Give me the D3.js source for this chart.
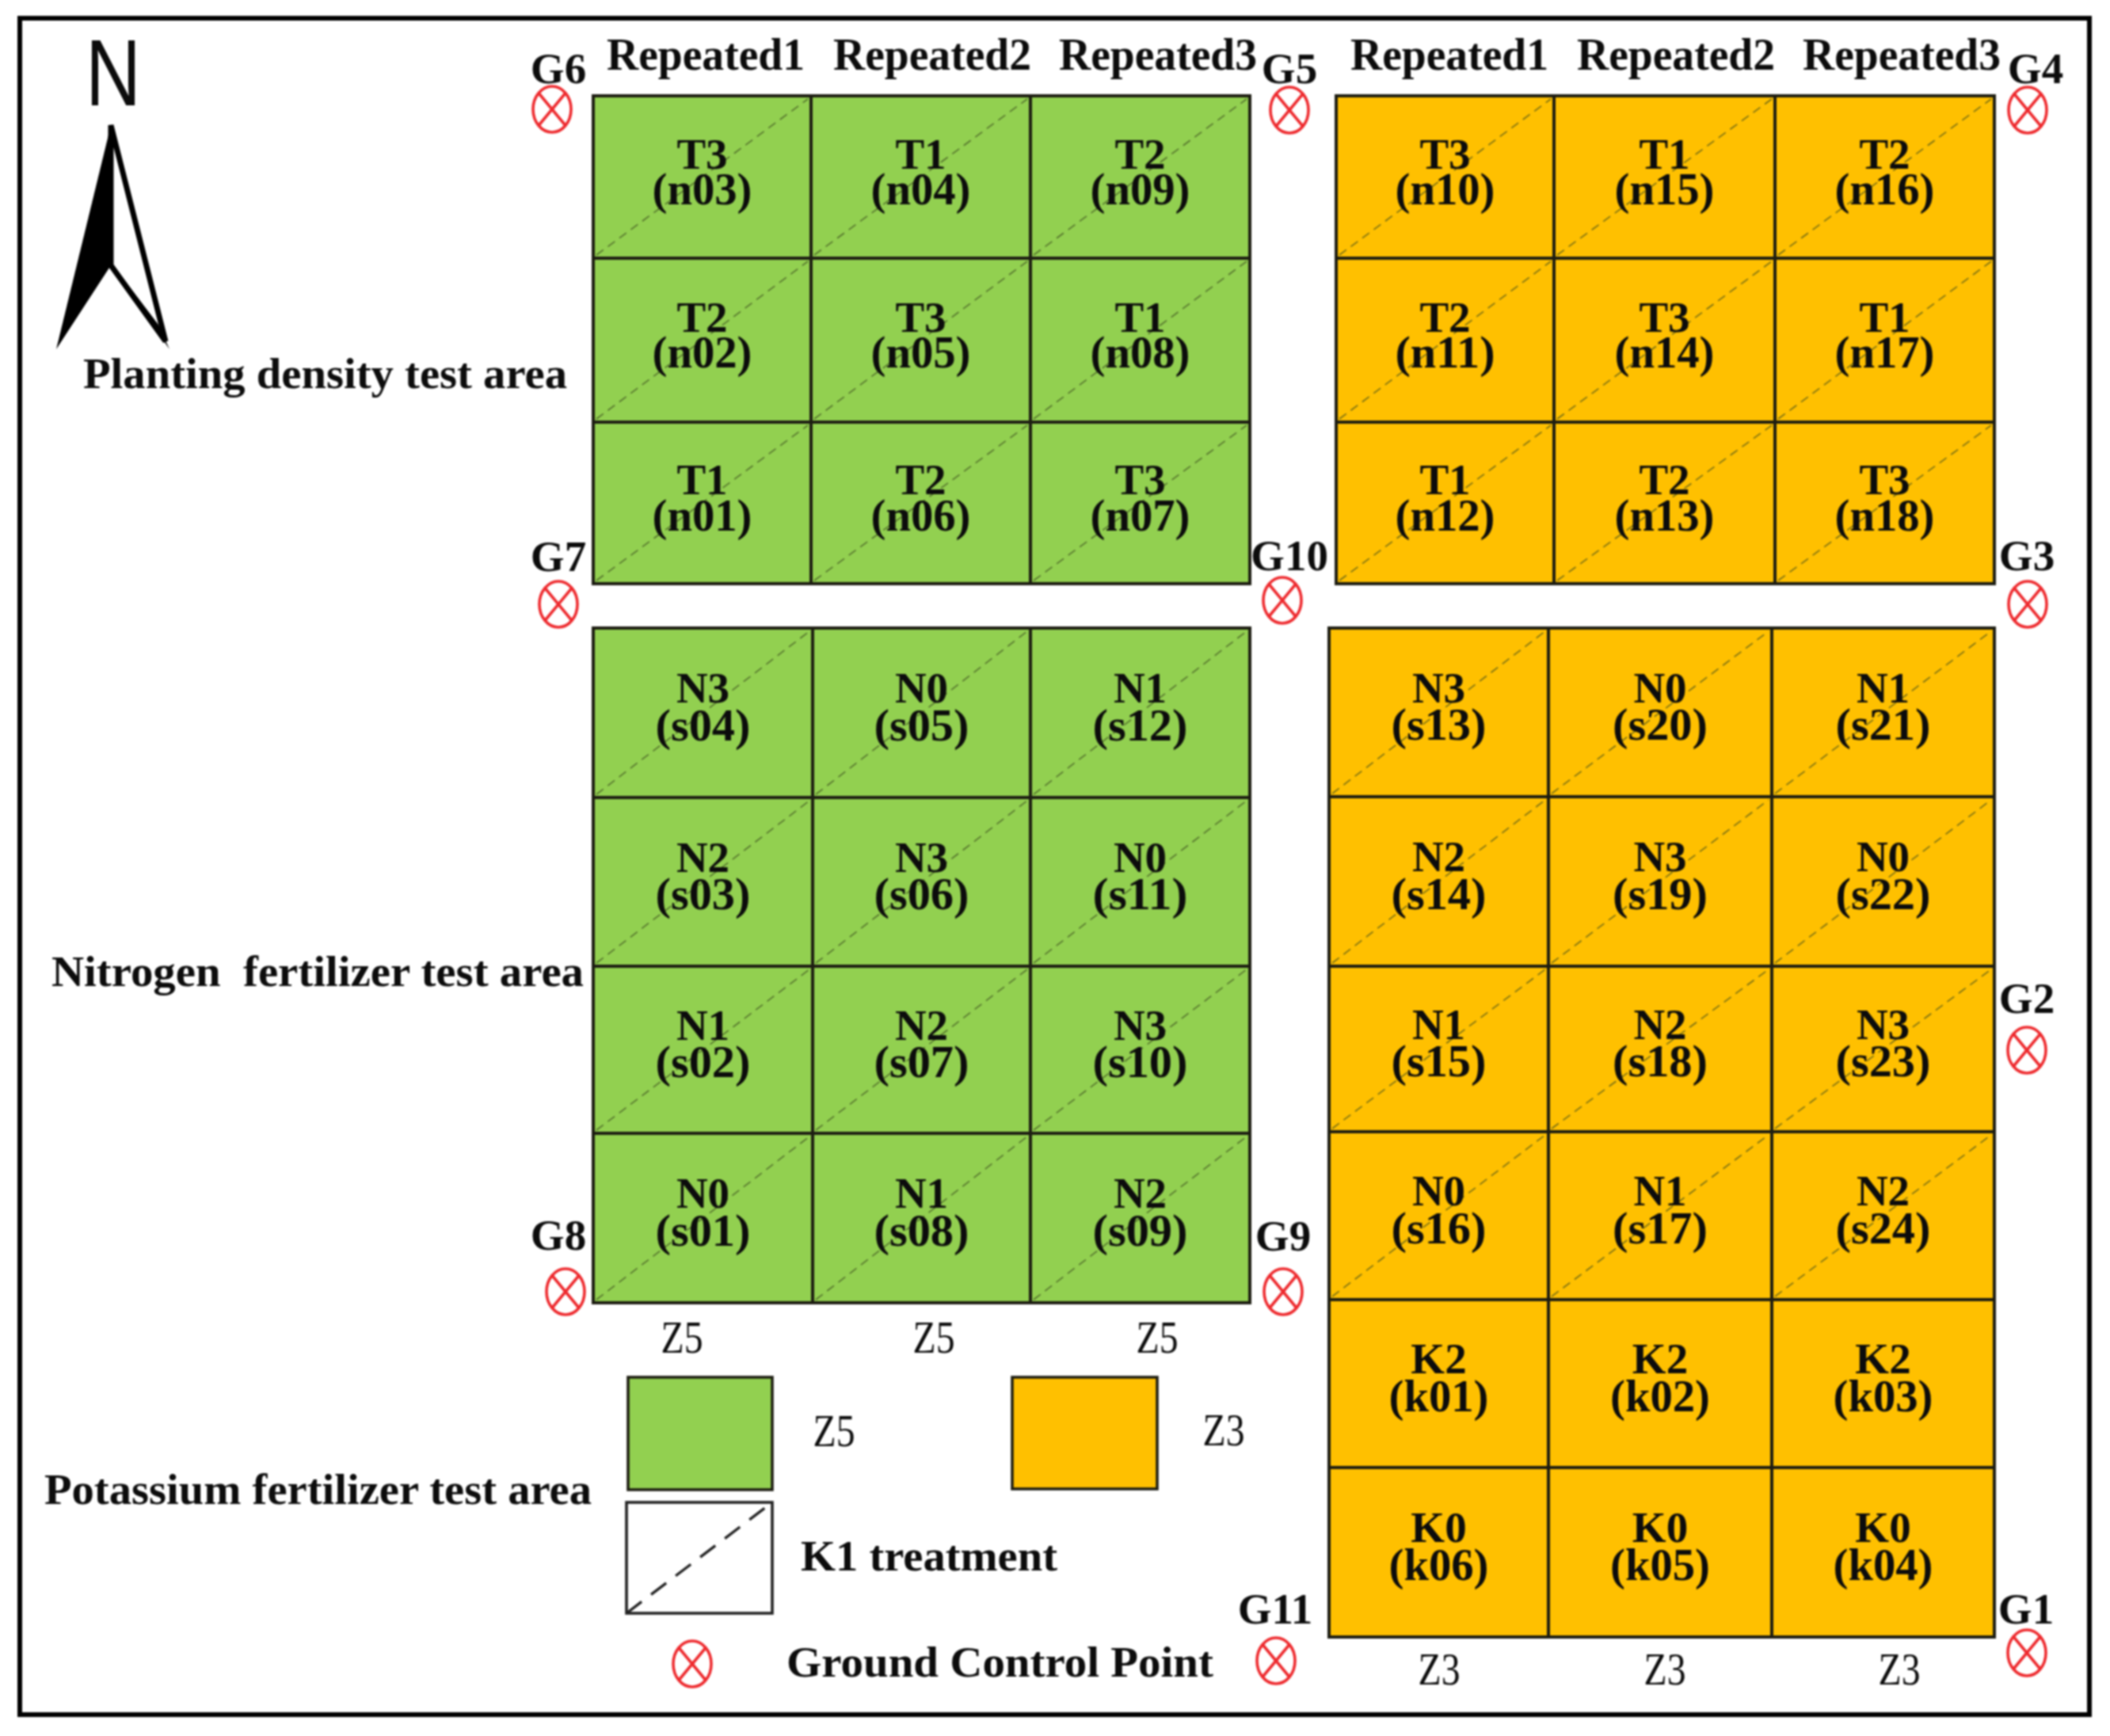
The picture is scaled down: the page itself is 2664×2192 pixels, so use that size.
<!DOCTYPE html>
<html>
<head>
<meta charset="utf-8">
<script src="https://cdn.jsdelivr.net/npm/d3@7/dist/d3.min.js"></script>
<style>
html,body{margin:0;padding:0;background:#fff;}
svg{display:block;filter:blur(0.9px);}
text{font-family:"Liberation Serif",serif;fill:#0c0c0c;white-space:pre;}
</style>
</head>
<body>
<svg id="chart" width="2664" height="2192" viewBox="0 0 2664 2192"></svg>
<script>
// ---- data ----
const repeats = ["Repeated1","Repeated2","Repeated3"];
const densityLeftTreat  = [["T3","T1","T2"],["T2","T3","T1"],["T1","T2","T3"]];
const densityLeftPlot   = [["n03","n04","n09"],["n02","n05","n08"],["n01","n06","n07"]];
const densityRightTreat = [["T3","T1","T2"],["T2","T3","T1"],["T1","T2","T3"]];
const densityRightPlot  = [["n10","n15","n16"],["n11","n14","n17"],["n12","n13","n18"]];
const nitroLeftTreat  = [["N3","N0","N1"],["N2","N3","N0"],["N1","N2","N3"],["N0","N1","N2"]];
const nitroLeftPlot   = [["s04","s05","s12"],["s03","s06","s11"],["s02","s07","s10"],["s01","s08","s09"]];
const mixedRightTreat = [["N3","N0","N1"],["N2","N3","N0"],["N1","N2","N3"],["N0","N1","N2"],["K2","K2","K2"],["K0","K0","K0"]];
const mixedRightPlot  = [["s13","s20","s21"],["s14","s19","s22"],["s15","s18","s23"],["s16","s17","s24"],["k01","k02","k03"],["k06","k05","k04"]];
const areaNames = ["Planting density test area","Nitrogen  fertilizer test area","Potassium fertilizer test area"];
const legendNames = ["Z5","Z3","K1 treatment","Ground Control Point"];
const gcpNames = ["G1","G2","G3","G4","G5","G6","G7","G8","G9","G10","G11"];

// ---- style / layout ----
const GREEN="#92D050", ORANGE="#FFC000", RED="#EE2A2E", LINE="#1d1d12";
const svg=d3.select("#chart");
const idx=n=>d3.range(n+1);

function text(s,x,y,size,opt={}){
  const t=svg.append("text").attr("x",x).attr("y",y).attr("font-size",size)
    .attr("font-weight",opt.weight||"bold").attr("text-anchor",opt.anchor||"middle").text(s);
  if(opt.width) t.attr("textLength",opt.width).attr("lengthAdjust","spacingAndGlyphs");
  if(opt.family) t.style("font-family",opt.family);
  return t;
}

// frame
svg.append("rect").attr("x",25).attr("y",23).attr("width",2613).attr("height",2142)
  .attr("fill","#fff").attr("stroke","#000").attr("stroke-width",6);

// blocks: each has its own band edges
const blocks=[
 {t:densityLeftTreat, p:densityLeftPlot, fill:GREEN, xs:[749,1024,1301,1578], ys:[121,326,533,737]},
 {t:densityRightTreat,p:densityRightPlot,fill:ORANGE,xs:[1687,1962,2241,2518],ys:[121,326,533,737]},
 {t:nitroLeftTreat,   p:nitroLeftPlot,   fill:GREEN, xs:[749,1026,1301,1578], ys:[793,1007,1220,1431,1645]},
 {t:mixedRightTreat,  p:mixedRightPlot,  fill:ORANGE,xs:[1678,1955,2237,2518],ys:[793,1006,1220,1429,1641,1853,2067]}
];
blocks.forEach(b=>{
  const x=d3.scaleLinear().domain(idx(b.t[0].length)).range(b.xs);
  const y=d3.scaleLinear().domain(idx(b.t.length)).range(b.ys);
  const cells=b.t.flatMap((row,r)=>row.map((tr,c)=>({r,c,tr,pl:b.p[r][c]})));
  const g=svg.append("g");
  g.selectAll("rect").data(cells).join("rect")
    .attr("x",d=>x(d.c)).attr("y",d=>y(d.r))
    .attr("width",d=>x(d.c+1)-x(d.c)).attr("height",d=>y(d.r+1)-y(d.r))
    .attr("fill",b.fill).attr("stroke",LINE).attr("stroke-width",4);
  g.selectAll("line").data(cells.filter(d=>d.tr[0]!=="K")).join("line")
    .attr("x1",d=>x(d.c)+4).attr("y1",d=>y(d.r+1)-4)
    .attr("x2",d=>x(d.c+1)-4).attr("y2",d=>y(d.r)+4)
    .attr("stroke","#3b4a1e").attr("stroke-opacity",.7).attr("stroke-width",1.6).attr("stroke-dasharray","11 7");
  cells.forEach(d=>{
    const cx=(x(d.c)+x(d.c+1))/2, cy=(y(d.r)+y(d.r+1))/2;
    text(d.tr,cx,cy-(d.tr[0]==="T"?11:13),55);
    text("("+d.pl+")",cx,cy+34.5,56,{width:d.pl[0]==="s"?120:126});
  });
});

// column headers
[[891,1177,1462],[1830,2116,2401]].forEach(cs=>cs.forEach((c,i)=>text(repeats[i],c,88,56,{width:250})));

// north arrow
text("N",143,133,118,{weight:"normal",family:"'Liberation Sans',sans-serif",width:70});
const apex=[140,158],lb=[71,441],rb=[214,441],notch=[140,335];
svg.append("path").attr("d",d3.line()([apex,notch,lb])+"Z").attr("fill","#000");
svg.append("path").attr("d",d3.line()([apex,[209,431],notch])+"Z").attr("fill","#fff").attr("stroke","#000").attr("stroke-width",7).attr("stroke-linejoin","miter");
svg.append("path").attr("d",d3.line()([[140,335],rb,[200,410],[143,335]])+"Z").attr("fill","#000");

// area labels
text(areaNames[0],105,490,55,{anchor:"start",width:611});
text(areaNames[1],65,1245,55,{anchor:"start",width:672});
text(areaNames[2],56,1899,55,{anchor:"start",width:691});

// zone labels under the grids
[861,1179,1461].forEach(c=>text(legendNames[0],c,1708,58,{weight:"normal",width:53}));
[1817,2102,2398].forEach(c=>text(legendNames[1],c,2127,58,{weight:"normal",width:53}));

// legend
svg.append("rect").attr("x",793).attr("y",1739).attr("width",182).attr("height",142).attr("fill",GREEN).attr("stroke",LINE).attr("stroke-width",3.6);
svg.append("rect").attr("x",1278).attr("y",1739).attr("width",183).attr("height",141).attr("fill",ORANGE).attr("stroke",LINE).attr("stroke-width",3.6);
svg.append("rect").attr("x",791).attr("y",1897).attr("width",184).attr("height",140).attr("fill","#fff").attr("stroke","#222").attr("stroke-width",3.6);
svg.append("line").attr("x1",791).attr("y1",2037).attr("x2",975).attr("y2",1897).attr("stroke","#222").attr("stroke-width",3.4).attr("stroke-dasharray","24 15");
text(legendNames[0],1053,1826,58,{weight:"normal",width:53});
text(legendNames[1],1545,1825,58,{weight:"normal",width:53});
text(legendNames[2],1011,1983,55,{anchor:"start",width:324});
text(legendNames[3],993,2117,55,{anchor:"start",width:539});

// ground control points
const gcpText=[[2558,2050],[2559,1279],[2559,720],[2570,105],[1628,105],[705,105],[705,721],[705,1578],[1620,1579],[1628,720],[1610,2050]];
const gcpMark=[[2559,2087],[2559,1326],[2560,763],[2560,139],[1628,139],[697,138],[705,763],[714,1631],[1620,1631],[1619,758],[1611,2097]];
function mark(cx,cy){
  const g=svg.append("g").attr("transform",`translate(${cx},${cy})`).attr("fill","none").attr("stroke",RED).attr("stroke-width",3.6);
  const rx=24,ry=29,k=Math.SQRT1_2;
  g.append("ellipse").attr("rx",rx).attr("ry",ry);
  g.append("line").attr("x1",-rx*k).attr("y1",-ry*k).attr("x2",rx*k).attr("y2",ry*k);
  g.append("line").attr("x1",-rx*k).attr("y1",ry*k).attr("x2",rx*k).attr("y2",-ry*k);
}
gcpNames.forEach((n,i)=>{ text(n,gcpText[i][0],gcpText[i][1],55); mark(gcpMark[i][0],gcpMark[i][1]); });
mark(874,2101);
</script>
</body>
</html>
